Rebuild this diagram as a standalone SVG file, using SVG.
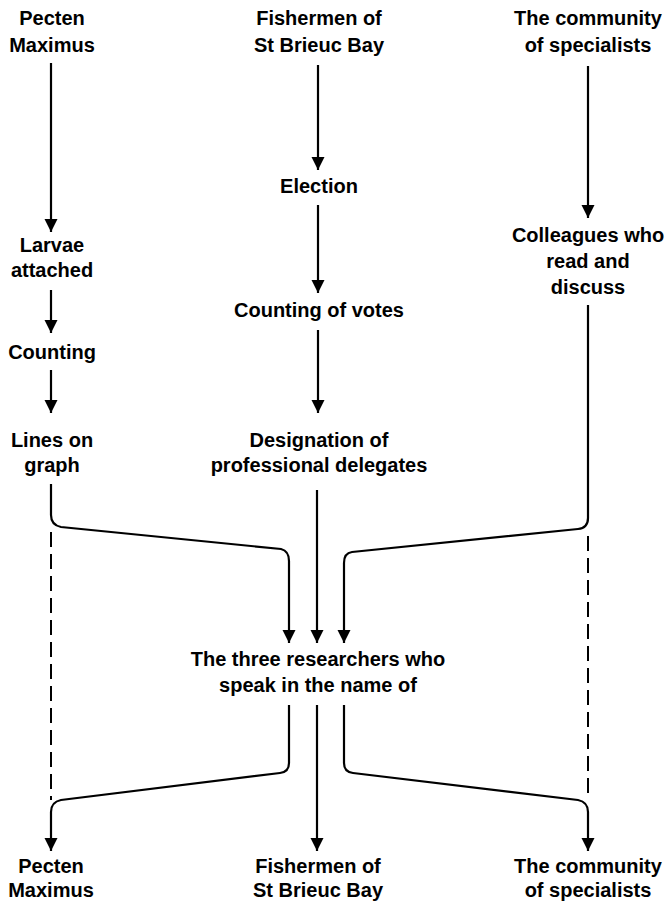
<svg xmlns="http://www.w3.org/2000/svg" width="671" height="906" viewBox="0 0 671 906">
<style>
text{font-family:"Liberation Sans",Arial,sans-serif;font-size:20px;font-weight:bold;fill:#000;text-anchor:middle}
.c{fill:none;stroke:#000;stroke-width:2.2}
.d{fill:none;stroke:#000;stroke-width:2;stroke-dasharray:15,7}
</style>
<defs>
<marker id="ah" markerUnits="userSpaceOnUse" markerWidth="14" markerHeight="14" refX="13" refY="7" orient="auto">
<path d="M0,0.5 L13,7 L0,13.5 z" fill="#000"/>
</marker>
</defs>
<rect width="671" height="906" fill="#fff"/>
<g id="connectors">
<path class="c" d="M51,63 V232" marker-end="url(#ah)"/>
<path class="c" d="M51,290 V333" marker-end="url(#ah)"/>
<path class="c" d="M51,370 V413" marker-end="url(#ah)"/>
<path class="c" d="M318,65 V170" marker-end="url(#ah)"/>
<path class="c" d="M318,205 V293" marker-end="url(#ah)"/>
<path class="c" d="M318,330 V413" marker-end="url(#ah)"/>
<path class="c" d="M588,66 V218" marker-end="url(#ah)"/>
<path class="c" d="M51,484 V515 Q51,525 61,527 L281,549 Q289,551 289,561 V643" marker-end="url(#ah)"/>
<path class="c" d="M317,490 V643" marker-end="url(#ah)"/>
<path class="c" d="M588,305 V518 Q588,528 578,529 L352,552 Q344,553 344,563 V643" marker-end="url(#ah)"/>
<path class="d" d="M51,532 V800"/>
<path class="d" d="M588,536 V800"/>
<path class="c" d="M289,705 V763 Q289,772 280,773 L61,800 Q51,802 51,812 V851" marker-end="url(#ah)"/>
<path class="c" d="M317,705 V851" marker-end="url(#ah)"/>
<path class="c" d="M344,705 V763 Q344,772 353,773 L578,800 Q588,802 588,812 V851" marker-end="url(#ah)"/>
</g>
<g id="pecten-top"><text x="52" y="25">Pecten</text><text x="52" y="52">Maximus</text></g>
<g id="fishermen-top"><text x="319" y="25">Fishermen of</text><text x="319" y="52">St Brieuc Bay</text></g>
<g id="community-top"><text x="588" y="25">The community</text><text x="588" y="52">of specialists</text></g>
<g id="larvae"><text x="52" y="252">Larvae</text><text x="52" y="277">attached</text></g>
<g id="counting"><text x="52" y="359">Counting</text></g>
<g id="lines-on-graph"><text x="52" y="447">Lines on</text><text x="52" y="472">graph</text></g>
<g id="election"><text x="319" y="193">Election</text></g>
<g id="counting-votes"><text x="319" y="317">Counting of votes</text></g>
<g id="designation"><text x="319" y="447">Designation of</text><text x="319" y="472">professional delegates</text></g>
<g id="colleagues"><text x="588" y="242">Colleagues who</text><text x="588" y="268">read and</text><text x="588" y="294">discuss</text></g>
<g id="researchers"><text x="318" y="666">The three researchers who</text><text x="318" y="692">speak in the name of</text></g>
<g id="pecten-bottom"><text x="51" y="873">Pecten</text><text x="51" y="897">Maximus</text></g>
<g id="fishermen-bottom"><text x="318" y="873">Fishermen of</text><text x="318" y="897">St Brieuc Bay</text></g>
<g id="community-bottom"><text x="588" y="873">The community</text><text x="588" y="897">of specialists</text></g>
</svg>
